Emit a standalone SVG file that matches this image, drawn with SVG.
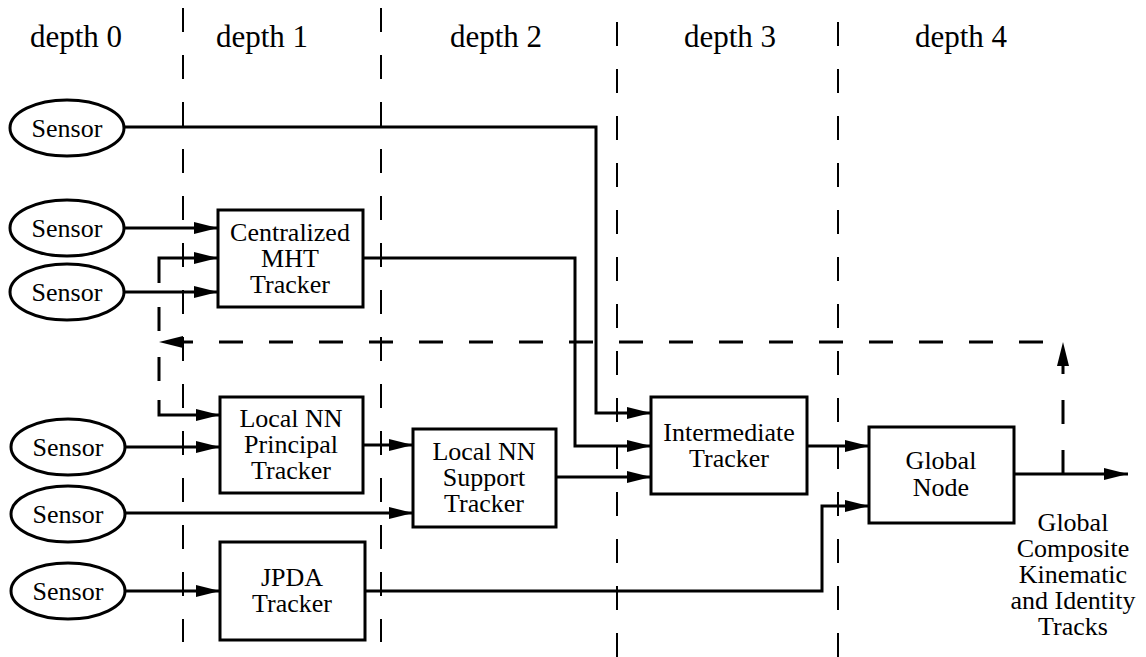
<svg xmlns="http://www.w3.org/2000/svg" width="1146" height="657" viewBox="0 0 1146 657">
<defs>
<style>
text{font-family:"Liberation Serif","Times New Roman",serif;fill:#000;text-anchor:middle}
.hdr{font-size:31px}
.lbl{font-size:26px}
.sen{font-size:26px}
.div{stroke:#000;stroke-width:2;stroke-dasharray:24 23;fill:none}
.node{fill:#fff;stroke:#000;stroke-width:3}
.c{fill:none;stroke:#000;stroke-width:3}
.cd{fill:none;stroke:#000;stroke-width:3;stroke-dasharray:24 26}
</style>
<marker id="ah" markerUnits="userSpaceOnUse" markerWidth="26" markerHeight="14" refX="24" refY="6" orient="auto" viewBox="0 0 26 14">
<path d="M0,0 L24,6 L0,12 Z" fill="#000"/>
</marker>
</defs>
<rect width="1146" height="657" fill="#fff"/>
<g id="headers">
<text class="hdr" x="76" y="47">depth 0</text>
<text class="hdr" x="262" y="47">depth 1</text>
<text class="hdr" x="496" y="47">depth 2</text>
<text class="hdr" x="730" y="47">depth 3</text>
<text class="hdr" x="961" y="47">depth 4</text>
</g>
<g id="dividers">
<line class="div" x1="183" y1="8" x2="183" y2="642"/>
<line class="div" x1="381" y1="8" x2="381" y2="642"/>
<line class="div" x1="617" y1="22" x2="617" y2="657"/>
<line class="div" x1="838" y1="22" x2="838" y2="657"/>
</g>
<g id="connectors">
<path class="c" d="M124,127 H596 V413 H651" marker-end="url(#ah)"/>
<path class="c" d="M124,228 H218" marker-end="url(#ah)"/>
<path class="c" d="M124,292 H218" marker-end="url(#ah)"/>
<path class="c" d="M159,283 V258 H218" marker-end="url(#ah)"/>
<path class="cd" d="M159,307 V400"/>
<path class="c" d="M159,400 V415 H220" marker-end="url(#ah)"/>
<path class="c" d="M363,258 H575 V446 H651" marker-end="url(#ah)"/>
<path class="c" d="M126,447 H220" marker-end="url(#ah)"/>
<path class="c" d="M363,445 H413" marker-end="url(#ah)"/>
<path class="c" d="M126,513 H413" marker-end="url(#ah)"/>
<path class="c" d="M126,591 H220" marker-end="url(#ah)"/>
<path class="c" d="M365,591 H822 V506 H869" marker-end="url(#ah)"/>
<path class="c" d="M556,477 H651" marker-end="url(#ah)"/>
<path class="c" d="M807,446 H869" marker-end="url(#ah)"/>
<path class="c" d="M1014,474 H1128" marker-end="url(#ah)"/>
<path class="cd" d="M1063,474 V342" marker-end="url(#ah)"/>
<path class="cd" d="M1043,342 H159" marker-end="url(#ah)"/>
</g>
<g id="sensor1"><ellipse class="node" cx="67" cy="128" rx="57" ry="28"/><text class="sen" x="67" y="137">Sensor</text></g>
<g id="sensor2"><ellipse class="node" cx="67" cy="228" rx="57" ry="28"/><text class="sen" x="67" y="237">Sensor</text></g>
<g id="sensor3"><ellipse class="node" cx="67" cy="292" rx="57" ry="28"/><text class="sen" x="67" y="301">Sensor</text></g>
<g id="sensor4"><ellipse class="node" cx="68" cy="447" rx="57" ry="28"/><text class="sen" x="68" y="456">Sensor</text></g>
<g id="sensor5"><ellipse class="node" cx="68" cy="514" rx="57" ry="28"/><text class="sen" x="68" y="523">Sensor</text></g>
<g id="sensor6"><ellipse class="node" cx="68" cy="591" rx="57" ry="28"/><text class="sen" x="68" y="600">Sensor</text></g>
<g id="mht"><rect class="node" x="218" y="210" width="145" height="97"/>
<text class="lbl" x="290" y="241">Centralized</text><text class="lbl" x="290" y="267">MHT</text><text class="lbl" x="290" y="293">Tracker</text></g>
<g id="nnprincipal"><rect class="node" x="220" y="397" width="143" height="96"/>
<text class="lbl" x="291" y="427">Local NN</text><text class="lbl" x="291" y="453">Principal</text><text class="lbl" x="291" y="479">Tracker</text></g>
<g id="nnsupport"><rect class="node" x="413" y="429" width="143" height="98"/>
<text class="lbl" x="484" y="460">Local NN</text><text class="lbl" x="484" y="486">Support</text><text class="lbl" x="484" y="512">Tracker</text></g>
<g id="jpda"><rect class="node" x="220" y="542" width="145" height="98"/>
<text class="lbl" x="292" y="586">JPDA</text><text class="lbl" x="292" y="612">Tracker</text></g>
<g id="intermediate"><rect class="node" x="651" y="397" width="156" height="97"/>
<text class="lbl" x="729" y="441">Intermediate</text><text class="lbl" x="729" y="467">Tracker</text></g>
<g id="global"><rect class="node" x="869" y="427" width="145" height="96"/>
<text class="lbl" x="941" y="469">Global</text><text class="lbl" x="941" y="496">Node</text></g>
<g id="output-label">
<text class="lbl" x="1073" y="531">Global</text>
<text class="lbl" x="1073" y="557">Composite</text>
<text class="lbl" x="1073" y="583">Kinematic</text>
<text class="lbl" x="1073" y="609">and Identity</text>
<text class="lbl" x="1073" y="635">Tracks</text>
</g>
</svg>
